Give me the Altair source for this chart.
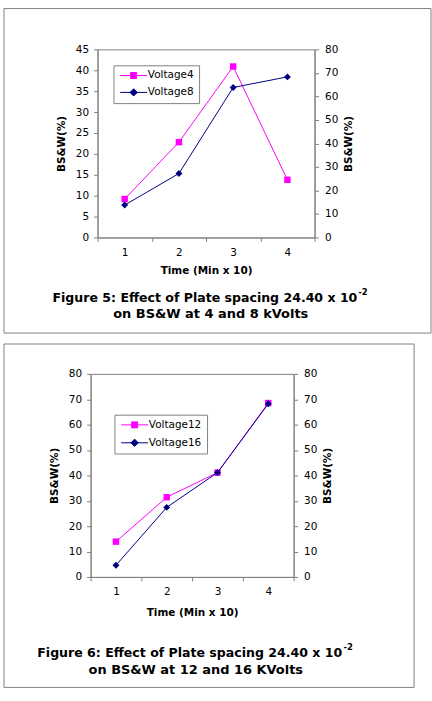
import altair as alt
import pandas as pd

# ---------------- data ----------------
times = [1, 2, 3, 4]

fig5_series = ["Voltage4", "Voltage8"]
fig5_voltage4 = [9.2, 22.8, 40.9, 13.8]    # left axis (0-45)
fig5_voltage8 = [13.8, 27.2, 63.8, 68.3]   # right axis (0-80)

fig6_series = ["Voltage12", "Voltage16"]
fig6_voltage12 = [13.9, 31.4, 41.1, 68.5]  # left axis (0-80)
fig6_voltage16 = [4.6, 27.4, 41.1, 68.2]   # right axis (0-80)

fig5_left_ticks = [0, 5, 10, 15, 20, 25, 30, 35, 40, 45]
fig5_right_ticks = [0, 10, 20, 30, 40, 50, 60, 70, 80]
fig6_left_ticks = [0, 10, 20, 30, 40, 50, 60, 70, 80]
fig6_right_ticks = [0, 10, 20, 30, 40, 50, 60, 70, 80]

fig5_caption = ["Figure 5: Effect of Plate spacing 24.40 x 10", "-2", "on BS&W at 4 and 8 kVolts"]
fig6_caption = ["Figure 6: Effect of Plate spacing 24.40 x 10", "-2", "on BS&W at 12 and 16 KVolts"]

X_TITLE = "Time (Min x 10)"
Y_TITLE = "BS&W(%)"

# ---------------- style ----------------
MAGENTA = "#FF00FF"
NAVY = "#000080"
GRAY = "#808080"
FONT = "DejaVu Sans"

# legend symbols: short line with marker on it
SQ_PATH = "M-3.86,0H3.86M-0.86,-0.86H0.86V0.86H-0.86Z"
DI_PATH = "M-3.86,0H3.86M0,-1.05L1.05,0L0,1.05L-1.05,0Z"

INDEP = dict(shape="independent", fill="independent", stroke="independent")


def spacer():
    # invisible 1px column so that each figure is placed by its own frame
    return (
        alt.Chart(pd.DataFrame({"k": [0]}))
        .mark_rect(opacity=0)
        .encode(x=alt.value(0), x2=alt.value(1), y=alt.value(0), y2=alt.value(1))
        .properties(width=1, height=1, view=alt.ViewBackground(stroke="transparent"))
    )


def figure(series, vals_a, vals_b, left_ticks, right_ticks, W, H,
           legend_xy, row_pad, frame, caption, cap, xtitle_pad):
    df = pd.DataFrame({"t": times, "a": vals_a, "b": vals_b})
    base = alt.Chart(df)

    x = alt.X(
        "t:O",
        bandPosition=0.5,
        scale=alt.Scale(type="band", paddingInner=0, paddingOuter=0),
        axis=alt.Axis(title=X_TITLE, labelAngle=0, tickBand="extent",
                      labelPadding=6, titlePadding=xtitle_pad),
    )
    ya = alt.Y(
        "a:Q",
        scale=alt.Scale(domain=[left_ticks[0], left_ticks[-1]], nice=False),
        axis=alt.Axis(values=left_ticks, title=Y_TITLE, orient="left",
                      labelPadding=5, titlePadding=9),
    )
    yb = alt.Y(
        "b:Q",
        scale=alt.Scale(domain=[right_ticks[0], right_ticks[-1]], nice=False),
        axis=alt.Axis(values=right_ticks, title=Y_TITLE, orient="right",
                      labelPadding=6, titlePadding=6, titleAngle=270,
                      titleBaseline="top"),
    )

    left = alt.layer(
        base.mark_line(color=MAGENTA, strokeWidth=1).encode(x=x, y=ya),
        base.mark_point(shape="square", filled=True, size=42, color=MAGENTA,
                        opacity=1).encode(x=x, y=ya),
    )
    right = alt.layer(
        base.mark_line(color=NAVY, strokeWidth=1).encode(x=x, y=yb),
        base.mark_point(shape="diamond", filled=True, size=48, color=NAVY,
                        opacity=1).encode(x=x, y=yb),
    )

    leg = alt.Legend(
        title=None, orient="none", legendX=legend_xy[0], legendY=legend_xy[1],
        strokeColor=GRAY, fillColor="white", padding=5,
        symbolSize=49, symbolStrokeWidth=1, symbolOffset=10,
        labelOffset=9, rowPadding=row_pad,
        labelFont=FONT, labelFontSize=10.5, labelColor="black",
    )
    ldf = pd.DataFrame({"s": series})
    legend_layer = (
        alt.Chart(ldf)
        .transform_filter("false")
        .mark_point(filled=True, opacity=1)
        .encode(
            shape=alt.Shape("s:N", scale=alt.Scale(domain=series, range=[SQ_PATH, DI_PATH]), legend=leg),
            fill=alt.Fill("s:N", scale=alt.Scale(domain=series, range=[MAGENTA, NAVY]), legend=leg),
            stroke=alt.Stroke("s:N", scale=alt.Scale(domain=series, range=[MAGENTA, NAVY]), legend=leg),
        )
    )

    one = alt.Chart(pd.DataFrame({"k": [0]}))
    frame_layer = one.mark_rect(fill="transparent", stroke=GRAY, strokeWidth=1).encode(
        x=alt.value(frame[0]), x2=alt.value(frame[1]),
        y=alt.value(frame[2]), y2=alt.value(frame[3]),
    )
    cap1 = one.mark_text(font=FONT, fontSize=12.6, fontWeight="bold", align="right",
                         baseline="alphabetic", color="black").encode(
        x=alt.value(cap[0]), y=alt.value(cap[1]), text=alt.value(caption[0]))
    cap_sup = one.mark_text(font=FONT, fontSize=8.5, fontWeight="bold", align="left",
                            baseline="alphabetic", color="black").encode(
        x=alt.value(cap[2]), y=alt.value(cap[3]), text=alt.value(caption[1]))
    cap2 = one.mark_text(font=FONT, fontSize=13, fontWeight="bold", align="center",
                         baseline="alphabetic", color="black").encode(
        x=alt.value(cap[4]), y=alt.value(cap[5]), text=alt.value(caption[2]))

    layered = (
        alt.layer(frame_layer, left, right, legend_layer, cap1, cap_sup, cap2)
        .resolve_scale(y="independent")
        .properties(width=W, height=H)
    )
    return (
        alt.hconcat(spacer(), layered, spacing=0)
        .resolve_scale(**INDEP)
        .resolve_legend(**INDEP)
    )


fig5 = figure(
    fig5_series, fig5_voltage4, fig5_voltage8, fig5_left_ticks, fig5_right_ticks,
    W=218, H=189, legend_xy=(16, 16), row_pad=5,
    frame=(-94, 335, -41, 285),
    caption=fig5_caption,
    cap=(261, 253.7, 262, 247, 113.7, 270.3),
    xtitle_pad=8,
)
fig6 = figure(
    fig6_series, fig6_voltage12, fig6_voltage16, fig6_left_ticks, fig6_right_ticks,
    W=204, H=204, legend_xy=(24, 41), row_pad=6,
    frame=(-87, 325, -30, 315),
    caption=fig6_caption,
    cap=(252.7, 284.7, 254, 277.7, 105.7, 302),
    xtitle_pad=10,
)

chart = (
    alt.vconcat(fig5, fig6, spacing=9)
    .resolve_scale(**INDEP)
    .resolve_legend(**INDEP)
    .properties(padding={"left": 0, "top": 6, "right": 0, "bottom": 0}, background="white")
    .configure_view(stroke=GRAY, strokeWidth=1)
    .configure_axis(
        domainColor=GRAY, tickColor=GRAY, domainWidth=1, tickWidth=1, tickSize=4,
        grid=False, labelFont=FONT, labelFontSize=10.5, labelColor="black",
        titleFont=FONT, titleFontSize=10.5, titleFontWeight="bold", titleColor="black",
    )
)

chart.save("out.html", embed_options={"renderer": "svg", "actions": False})
